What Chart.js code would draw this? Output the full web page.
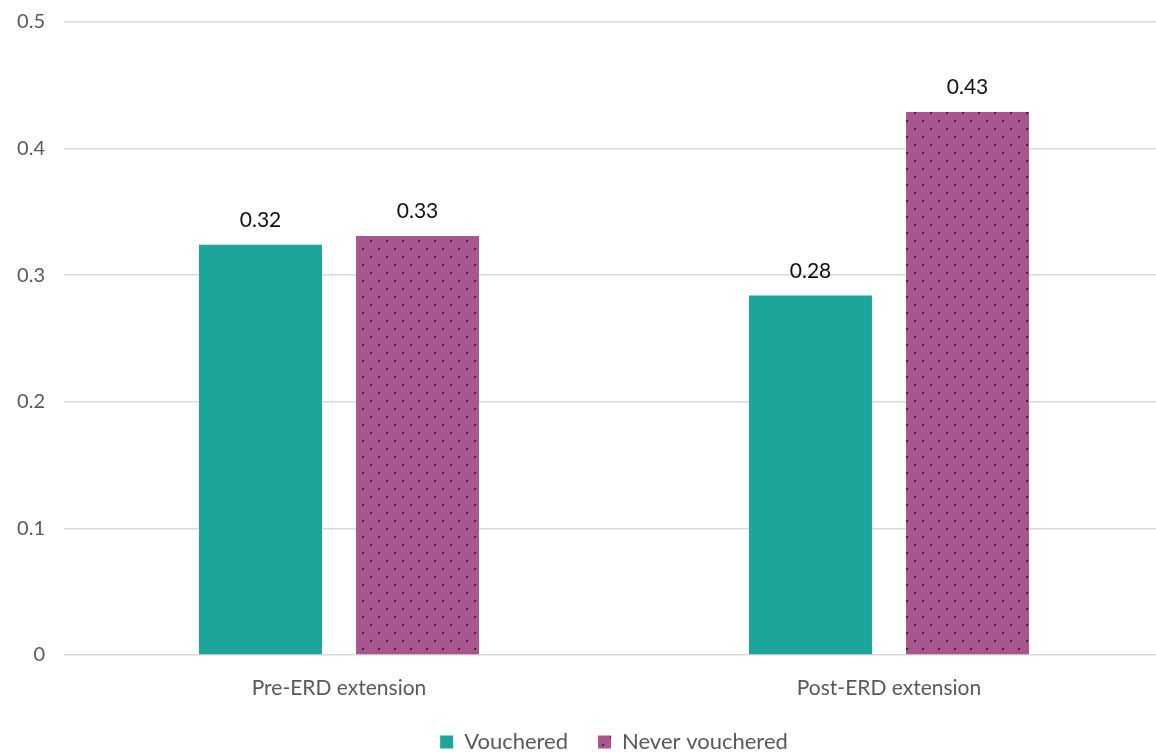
<!DOCTYPE html>
<html>
<head>
<meta charset="utf-8">
<script src="https://cdn.jsdelivr.net/npm/chart.js@4.4.1/dist/chart.umd.min.js"></script>
<style>
  html, body { margin: 0; padding: 0; background: #ffffff; overflow: hidden; }
  #wrap { position: absolute; left: 0; top: 0; width: 1164px; height: 765px; }
</style>
</head>
<body>
<div id="wrap"><canvas id="chart"></canvas></div>
<script>
// Categories and series values
const categories = ['Pre-ERD extension', 'Post-ERD extension'];
const vouchered = [0.324, 0.284];
const neverVouchered = [0.331, 0.429];
const yTicks = [0, 0.1, 0.2, 0.3, 0.4, 0.5];

const TEAL = '#1ca59b';
const PURPLE = '#a7568f';
const DOT = '#4a1e46';
const FONT = 'Lato, "Noto Sans", sans-serif';
const GREY = '#595959';

// Dotted fill for the "Never vouchered" bars
function dotPattern() {
  const c = document.createElement('canvas');
  c.width = 16; c.height = 16;
  const g = c.getContext('2d');
  g.fillStyle = PURPLE;
  g.fillRect(0, 0, 16, 16);
  g.fillStyle = DOT;
  g.fillRect(2, 0, 2, 2);
  g.fillRect(10, 8, 2, 2);
  return g.createPattern(c, 'repeat');
}

// Value labels above each bar
const valueLabels = {
  id: 'valueLabels',
  afterDatasetsDraw(chart) {
    const ctx = chart.ctx;
    ctx.save();
    ctx.font = '21px ' + FONT;
    ctx.fillStyle = '#111111';
    ctx.textAlign = 'center';
    ctx.textBaseline = 'bottom';
    chart.data.datasets.forEach((ds, i) => {
      chart.getDatasetMeta(i).data.forEach((bar, j) => {
        ctx.fillText(ds.data[j].toFixed(2), bar.x, bar.y - 14);
      });
    });
    ctx.restore();
  }
};

new Chart(document.getElementById('chart'), {
  type: 'bar',
  data: {
    labels: categories,
    datasets: [
      { label: 'Vouchered', data: vouchered, backgroundColor: TEAL,
        categoryPercentage: 0.571, barPercentage: 0.783 },
      { label: 'Never vouchered', data: neverVouchered, backgroundColor: dotPattern(),
        categoryPercentage: 0.571, barPercentage: 0.783 }
    ]
  },
  options: {
    responsive: true,
    maintainAspectRatio: false,
    animation: false,
    layout: { padding: { top: 22, right: 0, bottom: 2, left: 0 } },
    plugins: {
      legend: {
        position: 'bottom',
        fullSize: false,
        labels: {
          font: { family: FONT, size: 22 },
          color: GREY,
          boxWidth: 13,
          boxHeight: 13,
          padding: 30
        }
      },
      tooltip: { enabled: false }
    },
    scales: {
      x: {
        grid: { display: false },
        border: { display: false },
        afterFit(scale) { scale.height = 46; },
        ticks: { font: { family: FONT, size: 21 }, color: GREY, padding: 13 }
      },
      y: {
        min: 0,
        max: 0.5,
        afterFit(scale) {
          scale.width = 64;
          scale.paddingTop = 0;
          scale.paddingBottom = 0;
        },
        afterBuildTicks(scale) { scale.ticks = yTicks.map(v => ({ value: v })); },
        grid: { color: '#d9d9d9', lineWidth: 1.5, drawTicks: false },
        border: { display: false },
        ticks: {
          font: { family: FONT, size: 20 },
          color: GREY,
          padding: 19,
          callback: v => String(Math.round(v * 10) / 10)
        }
      }
    }
  },
  plugins: [valueLabels]
});
</script>
</body>
</html>
